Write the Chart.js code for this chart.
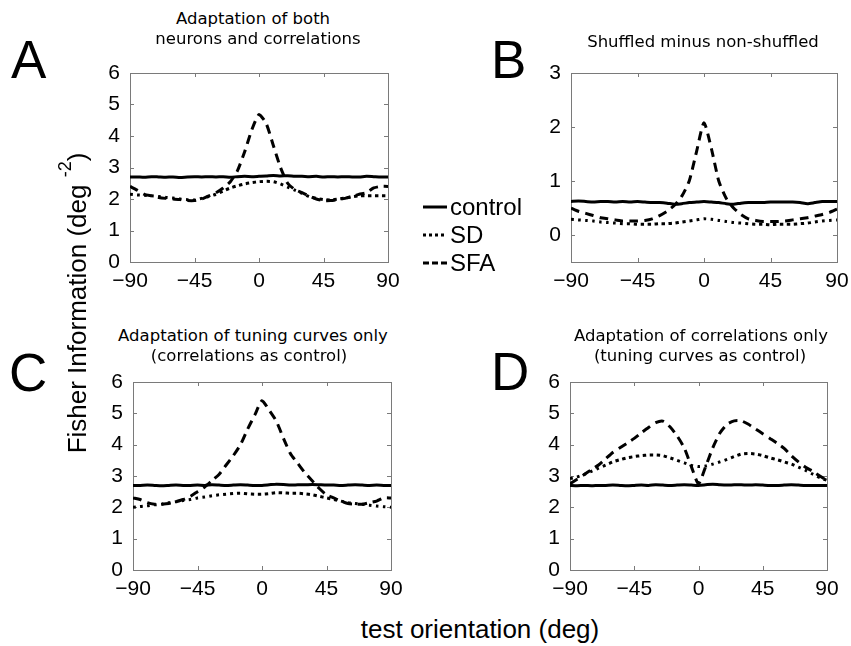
<!DOCTYPE html>
<html><head><meta charset="utf-8">
<script src="https://cdn.jsdelivr.net/npm/chart.js@4"></script>
<style>
html,body{margin:0;padding:0;background:#fff;}
body{width:851px;height:646px;position:relative;overflow:hidden;font-family:"Liberation Sans",Arial,sans-serif;color:#000;}
canvas{position:absolute;}
.t{position:absolute;width:400px;font-family:"DejaVu Sans";font-size:16.5px;line-height:20px;text-align:center;white-space:nowrap;}
.L{position:absolute;font-family:"Liberation Sans";font-size:53px;line-height:53px;}
.lg{position:absolute;left:423px;top:193px;font-family:"Liberation Sans";font-size:24px;line-height:28px;}
.row{display:flex;align-items:center;height:28px;}
.row svg{margin-right:3px;}
.ax{position:absolute;font-family:"Liberation Sans";font-size:26px;line-height:26px;white-space:nowrap;text-align:center;}
</style></head><body>
<canvas id="A" width="350" height="250" style="left:60px;top:50px"></canvas>
<canvas id="B" width="371" height="250" style="left:480px;top:50px"></canvas>
<canvas id="C" width="350" height="250" style="left:60px;top:355px"></canvas>
<canvas id="D" width="371" height="250" style="left:480px;top:355px"></canvas>

<div class="L" style="left:11px;top:33px">A</div>
<div class="L" style="left:491px;top:33px">B</div>
<div class="L" style="left:9px;top:346px">C</div>
<div class="L" style="left:491px;top:345px">D</div>

<div class="t" id="tA1" style="left:53px;top:9px"></div>
<div class="t" id="tA2" style="left:58px;top:29px"></div>
<div class="t" id="tB1" style="left:503px;top:32px"></div>
<div class="t" id="tC1" style="left:53px;top:326px"></div>
<div class="t" id="tC2" style="left:49px;top:346px"></div>
<div class="t" id="tD1" style="left:501px;top:326px"></div>
<div class="t" id="tD2" style="left:500px;top:346px"></div>

<div class="lg">
  <div class="row"><svg width="24" height="28"><line x1="0" y1="14" x2="24" y2="14" stroke="#000" stroke-width="3"/></svg><span id="lg0"></span></div>
  <div class="row"><svg width="24" height="28"><line x1="0" y1="14" x2="24" y2="14" stroke="#000" stroke-width="3" stroke-dasharray="3,3"/></svg><span id="lg1"></span></div>
  <div class="row"><svg width="24" height="28"><line x1="0" y1="14" x2="24" y2="14" stroke="#000" stroke-width="3" stroke-dasharray="6,3"/></svg><span id="lg2"></span></div>
</div>

<div class="ax" id="xlab" style="left:280px;top:616px;width:400px"></div>
<div class="ax" id="ylab" style="left:-123px;top:288px;width:400px;height:30px;line-height:30px;transform:rotate(-90deg);"></div>

<script>
// ---- data ----
const orientations = [-90,-85,-80,-75,-70,-65,-60,-55,-50,-45,-40,-35,-30,-25,-20,-15,-10,-5,0,5,10,15,20,25,30,35,40,45,50,55,60,65,70,75,80,85,90];
const seriesNames = ["control","SD","SFA"];
const panelTitles = {
  A: ["Adaptation of both","neurons and correlations"],
  B: ["Shuffled minus non-shuffled"],
  C: ["Adaptation of tuning curves only","(correlations as control)"],
  D: ["Adaptation of correlations only","(tuning curves as control)"]
};
const xAxisTitle = "test orientation (deg)";
const yAxisTitle = "Fisher Information (deg ";
const yAxisSup = "-2";

const aControl = [2.70,2.70,2.69,2.71,2.70,2.69,2.70,2.68,2.70,2.71,2.70,2.71,2.70,2.71,2.69,2.71,2.72,2.71,2.72,2.73,2.75,2.73,2.74,2.72,2.72,2.71,2.72,2.70,2.71,2.70,2.71,2.70,2.70,2.72,2.71,2.70,2.70];
const aSD      = [2.15,2.13,2.12,2.10,2.08,2.05,2.03,2.00,1.98,1.97,2.02,2.08,2.15,2.25,2.35,2.42,2.48,2.52,2.55,2.56,2.55,2.48,2.38,2.28,2.18,2.08,2.02,1.98,1.97,2.00,2.03,2.07,2.10,2.10,2.10,2.10,2.10];
const aSFA     = [2.40,2.28,2.15,2.10,2.05,2.02,2.00,1.98,1.95,1.95,2.00,2.10,2.20,2.35,2.55,2.90,3.50,4.20,4.68,4.40,3.70,3.00,2.50,2.30,2.20,2.10,2.00,1.95,1.95,1.98,2.02,2.08,2.15,2.20,2.35,2.40,2.40];

const bControl = [0.62,0.63,0.62,0.61,0.62,0.62,0.61,0.62,0.61,0.62,0.61,0.60,0.60,0.59,0.57,0.58,0.60,0.61,0.62,0.61,0.60,0.58,0.57,0.59,0.60,0.60,0.60,0.61,0.61,0.61,0.61,0.60,0.58,0.60,0.62,0.62,0.62];
const bSD      = [0.29,0.28,0.27,0.26,0.24,0.23,0.22,0.21,0.21,0.20,0.20,0.20,0.21,0.21,0.22,0.24,0.26,0.28,0.30,0.29,0.27,0.25,0.23,0.22,0.21,0.20,0.20,0.19,0.20,0.20,0.20,0.21,0.22,0.24,0.26,0.27,0.28];
const bSFA     = [0.50,0.44,0.40,0.36,0.32,0.30,0.28,0.26,0.26,0.26,0.27,0.30,0.36,0.44,0.55,0.72,1.00,1.55,2.08,1.60,1.00,0.68,0.50,0.38,0.30,0.27,0.25,0.25,0.25,0.26,0.28,0.30,0.32,0.35,0.38,0.42,0.48];

const cControl = [2.70,2.70,2.71,2.70,2.69,2.70,2.71,2.70,2.70,2.71,2.70,2.72,2.71,2.70,2.71,2.72,2.71,2.70,2.70,2.72,2.74,2.73,2.71,2.72,2.72,2.73,2.72,2.71,2.71,2.70,2.71,2.72,2.71,2.70,2.71,2.70,2.70];
const cSD      = [2.00,2.03,2.05,2.08,2.10,2.15,2.18,2.22,2.25,2.30,2.33,2.37,2.40,2.42,2.44,2.45,2.43,2.42,2.42,2.44,2.47,2.46,2.45,2.45,2.43,2.40,2.35,2.30,2.25,2.20,2.15,2.12,2.10,2.07,2.04,2.02,2.00];
const cSFA     = [2.30,2.25,2.15,2.10,2.10,2.12,2.18,2.25,2.35,2.50,2.65,2.85,3.05,3.35,3.65,4.00,4.50,4.95,5.40,5.10,4.75,4.20,3.70,3.40,3.10,2.85,2.60,2.40,2.30,2.20,2.12,2.10,2.10,2.15,2.20,2.30,2.30];

const dControl = [2.70,2.69,2.70,2.69,2.70,2.70,2.71,2.70,2.69,2.70,2.71,2.70,2.72,2.71,2.70,2.71,2.72,2.71,2.70,2.72,2.74,2.72,2.71,2.72,2.72,2.71,2.72,2.71,2.70,2.70,2.71,2.72,2.71,2.70,2.70,2.70,2.70];
const dSD      = [2.92,2.97,3.05,3.15,3.25,3.35,3.45,3.52,3.58,3.62,3.65,3.67,3.67,3.65,3.58,3.50,3.42,3.34,3.30,3.32,3.38,3.45,3.53,3.62,3.70,3.72,3.70,3.65,3.58,3.52,3.45,3.38,3.28,3.18,3.06,2.95,2.86];
const dSFA     = [2.75,2.90,3.05,3.20,3.35,3.55,3.75,3.90,4.05,4.20,4.38,4.55,4.70,4.75,4.57,4.28,3.90,3.30,2.75,3.30,3.90,4.37,4.65,4.76,4.76,4.65,4.50,4.35,4.20,4.05,3.88,3.65,3.45,3.28,3.15,3.00,2.85];

// ---- text ----
document.getElementById('tA1').textContent = panelTitles.A[0];
document.getElementById('tA2').textContent = panelTitles.A[1];
document.getElementById('tB1').textContent = panelTitles.B[0];
document.getElementById('tC1').textContent = panelTitles.C[0];
document.getElementById('tC2').textContent = panelTitles.C[1];
document.getElementById('tD1').textContent = panelTitles.D[0];
document.getElementById('tD2').textContent = panelTitles.D[1];
seriesNames.forEach((n,i)=>document.getElementById('lg'+i).textContent = n);
document.getElementById('xlab').textContent = xAxisTitle;
const yl = document.getElementById('ylab');
yl.appendChild(document.createTextNode(yAxisTitle));
const sup = document.createElement('span'); sup.textContent = yAxisSup;
sup.style.fontSize = '18px'; sup.style.lineHeight = '0'; sup.style.position = 'relative'; sup.style.top = '-15px';
yl.appendChild(sup);
yl.appendChild(document.createTextNode(')'));

// ---- charts ----
const fmt = v => v < 0 ? '\u2212' + Math.abs(v) : String(v);
const FRAME = '#7a7a7a';
const framePlugin = {
  id: 'frame',
  beforeDatasetsDraw(chart) {
    const {ctx, chartArea: a, scales: {x, y}} = chart;
    ctx.save();
    ctx.strokeStyle = FRAME; ctx.lineWidth = 1;
    ctx.strokeRect(Math.round(a.left)+0.5, Math.round(a.top)+0.5, Math.round(a.right-a.left), Math.round(a.bottom-a.top));
    ctx.beginPath();
    const tl = 4;
    x.ticks.forEach(t => {
      const px = Math.round(x.getPixelForValue(t.value)) + 0.5;
      ctx.moveTo(px, a.bottom); ctx.lineTo(px, a.bottom - tl);
      ctx.moveTo(px, a.top); ctx.lineTo(px, a.top + tl);
    });
    y.ticks.forEach(t => {
      const py = Math.round(y.getPixelForValue(t.value)) + 0.5;
      ctx.moveTo(a.left, py); ctx.lineTo(a.left + tl, py);
      ctx.moveTo(a.right, py); ctx.lineTo(a.right - tl, py);
    });
    ctx.stroke();
    ctx.restore();
  }
};

function ds(label, vals, dash) {
  return {
    label, data: orientations.map((x, i) => ({x, y: vals[i]})),
    borderColor: '#000', borderWidth: 3, borderDash: dash, pointRadius: 0,
    tension: 0.2, fill: false, borderCapStyle: 'butt'
  };
}

function makeChart(id, ctrl, sd, sfa, ymin, ymax, pad) {
  new Chart(document.getElementById(id), {
    type: 'line',
    data: { datasets: [ds(seriesNames[0], ctrl, []), ds(seriesNames[1], sd, [3, 4]), ds(seriesNames[2], sfa, [9, 6])] },
    options: {
      responsive: false, animation: false,
      layout: { padding: pad },
      plugins: { legend: { display: false }, tooltip: { enabled: false }, title: { display: false } },
      scales: {
        x: {
          type: 'linear', min: -90, max: 90,
          ticks: { stepSize: 45, autoSkip: false, maxRotation: 0, color: '#000', padding: -1,
                   font: { family: 'Liberation Sans', size: 21 }, callback: v => fmt(v) },
          grid: { display: false }, border: { display: false },
          afterFit: s => { s.height = 30; }
        },
        y: {
          type: 'linear', min: ymin, max: ymax,
          ticks: { stepSize: 1, includeBounds: false, color: '#000', padding: 2,
                   font: { family: 'Liberation Sans', size: 21 }, callback: v => fmt(v) },
          grid: { display: false }, border: { display: false },
          afterFit: s => { s.width = 40; }
        }
      }
    },
    plugins: [framePlugin]
  });
}

makeChart('A', aControl, aSD, aSFA, 0, 6, {left: 30, right: 22, top: 23, bottom: 8});
makeChart('B', bControl, bSD, bSFA, -0.5, 3, {left: 51, right: 14, top: 23, bottom: 8});
makeChart('C', cControl, cSD, cSFA, 0, 6, {left: 33, right: 19, top: 27, bottom: 5});
makeChart('D', dControl, dSD, dSFA, 0, 6, {left: 50, right: 24, top: 27, bottom: 5});
</script>
</body></html>
